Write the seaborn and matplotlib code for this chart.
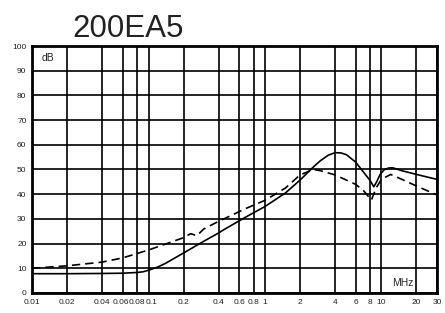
import pandas as pd
import numpy as np
import seaborn as sns
import matplotlib.pyplot as plt
from matplotlib.ticker import FixedLocator, FixedFormatter, NullLocator
from matplotlib.transforms import ScaledTranslation

# values
solid_mhz = [0.01, 0.02, 0.04, 0.06, 0.08, 0.09, 0.1, 0.12, 0.14, 0.2, 0.3, 0.4, 0.45, 0.7, 1, 1.5, 2, 2.6, 3, 3.5, 4, 4.5, 5, 6, 7, 8, 8.6, 9.1, 9.7, 10.5, 11.5, 12.5, 15, 20, 30]
solid_db = [7.8, 7.8, 7.9, 8.0, 8.3, 8.6, 9.2, 10.5, 12.0, 16.2, 21.0, 24.3, 25.8, 31.0, 35.0, 40.5, 45.7, 51.0, 53.6, 55.8, 56.8, 56.7, 56.0, 53.0, 49.0, 45.5, 43.0, 45.0, 47.8, 49.8, 50.6, 50.7, 49.5, 48.0, 46.0]

dash_mhz = [0.01, 0.02, 0.04, 0.06, 0.08, 0.1, 0.15, 0.2, 0.23, 0.26, 0.3, 0.4, 0.7, 1, 1.5, 2, 2.6, 3, 4, 6, 7, 8.2, 9, 10, 12, 15, 20, 30]
dash_db = [10.0, 11.0, 12.5, 14.2, 16.0, 17.4, 20.3, 22.4, 24.0, 23.2, 26.0, 29.0, 34.4, 37.5, 42.5, 47.8, 50.0, 49.5, 47.8, 44.0, 41.5, 37.6, 42.5, 46.0, 48.0, 46.0, 43.3, 39.7]

x_ticks = [0.01, 0.02, 0.04, 0.06, 0.08, 0.1, 0.2, 0.4, 0.6, 0.8, 1, 2, 4, 6, 8, 10, 20, 30]
x_labels = ["0.01", "0.02", "0.04", "0.06", "0.08", "0.1", "0.2", "0.4", "0.6", "0.8", "1", "2", "4", "6", "8", "10", "20", "30"]
y_ticks = [0, 10, 20, 30, 40, 50, 60, 70, 80, 90, 100]

sns.set_style("white")
plt.rcParams['font.family'] = ['Liberation Sans', 'DejaVu Sans']

solid = pd.DataFrame({"mhz": solid_mhz, "db": solid_db})
dash = pd.DataFrame({"mhz": dash_mhz, "db": dash_db})

fig = plt.figure(figsize=(4.45, 3.13), dpi=100)
ax = fig.add_axes([0.072, 0.064, 0.910, 0.789])

sns.lineplot(data=solid, x="mhz", y="db", ax=ax, color="black", lw=1.2)
sns.lineplot(data=dash, x="mhz", y="db", ax=ax, color="black", lw=1.2, linestyle=(0, (5, 3)))

ax.set_xscale("log")
ax.set_xlim(0.01, 30)
ax.set_ylim(0, 100)
ax.xaxis.set_major_locator(FixedLocator(x_ticks))
ax.xaxis.set_major_formatter(FixedFormatter(x_labels))
ax.xaxis.set_minor_locator(NullLocator())
ax.set_yticks(y_ticks)
ax.grid(True, color="black", lw=1.2)
ax.set_axisbelow(True)
for s in ax.spines.values():
    s.set_color("black")
    s.set_linewidth(2)
ax.tick_params(axis="both", length=0, labelsize=6.0, pad=4, colors="#222222")
ax.set_xlabel("")
ax.set_ylabel("")

# crowded labels near 0.1: nudge them apart a little
nudges = {"0.06": -1.5, "0.08": -0.5, "0.1": 2.5}
for lab in ax.get_xticklabels():
    dx = nudges.get(lab.get_text())
    if dx:
        lab.set_transform(lab.get_transform() + ScaledTranslation(dx / 72, 0, fig.dpi_scale_trans))

ax.text(0.012, 95, "dB", fontsize=7.5, va="center", ha="left")
ax.text(0.89, 0.04, "MHz", transform=ax.transAxes, fontsize=7.5, va="center", ha="left")
ax.text(0.10, 1.036, "200EA5", transform=ax.transAxes, fontsize=22.5, ha="left", va="baseline", color="#222222")

fig.savefig("out.png", dpi=100)
